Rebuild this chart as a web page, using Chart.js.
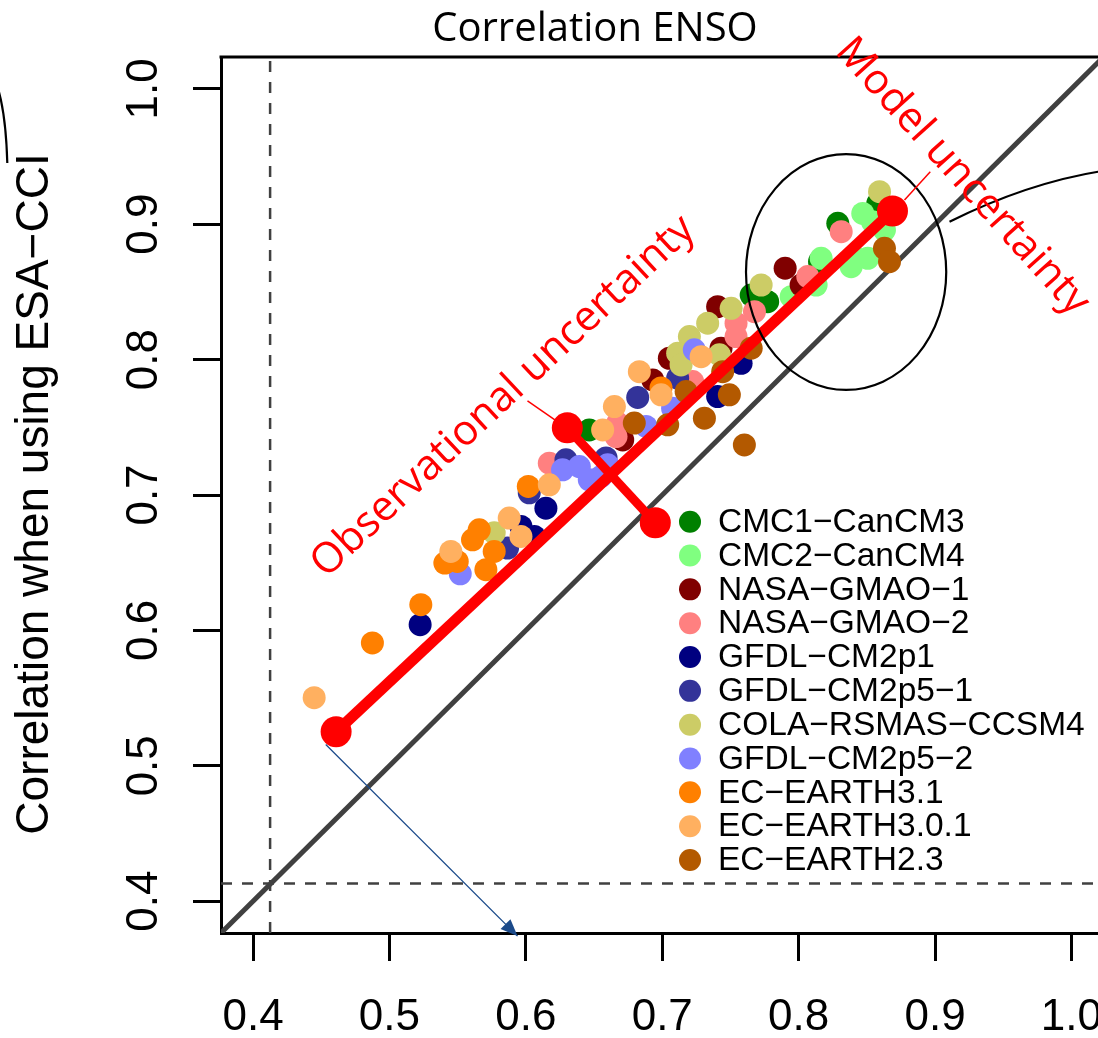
<!DOCTYPE html>
<html>
<head>
<meta charset="utf-8">
<script src="https://cdn.jsdelivr.net/npm/chart.js@4.4.1/dist/chart.umd.min.js"></script>
<style>
html,body{margin:0;padding:0;overflow:hidden;background:#ffffff;}
canvas{display:block;}
</style>
</head>
<body>
<canvas id="c" width="1119" height="1038"></canvas>
<script>
// ---------------- DATA ----------------
const modelNames = ['CMC1\u2212CanCM3','CMC2\u2212CanCM4','NASA\u2212GMAO\u22121','NASA\u2212GMAO\u22122','GFDL\u2212CM2p1','GFDL\u2212CM2p5\u22121','COLA\u2212RSMAS\u2212CCSM4','GFDL\u2212CM2p5\u22122','EC\u2212EARTH3.1','EC\u2212EARTH3.0.1','EC\u2212EARTH2.3'];
const modelColors = ['#008000','#80FF80','#800000','#FF8080','#000080','#333399','#CCCC66','#8080FF','#FF8000','#FFB060','#B35900'];

const cmc1X = [0.6465, 0.858, 0.8287, 0.8153, 0.7652, 0.7773];
const cmc1Y = [0.7481, 0.9154, 0.9007, 0.8723, 0.8477, 0.8428];
const cmc2X = [0.847, 0.8541, 0.8629, 0.8165, 0.8422, 0.8507, 0.8385, 0.8128, 0.7945];
const cmc2Y = [0.908, 0.9018, 0.8957, 0.8748, 0.8748, 0.8748, 0.8686, 0.8551, 0.8465];
const nasa1X = [0.7901, 0.8018, 0.7406, 0.7431, 0.7052, 0.693, 0.671];
const nasa1Y = [0.8675, 0.8551, 0.8391, 0.8084, 0.801, 0.785, 0.7407];
const nasa2X = [0.8312, 0.8067, 0.7676, 0.7541, 0.7541, 0.7223, 0.6673, 0.6661, 0.6172];
const nasa2Y = [0.8945, 0.8613, 0.8354, 0.8269, 0.817, 0.7838, 0.7531, 0.7432, 0.7235];
const gfdl1X = [0.5225, 0.5964, 0.6062, 0.6147, 0.7578, 0.7406];
const gfdl1Y = [0.6042, 0.6768, 0.6694, 0.6903, 0.7973, 0.7727];
const gfdl251X = [0.5866, 0.6025, 0.6294, 0.6588, 0.682, 0.7113];
const gfdl251Y = [0.6608, 0.7016, 0.726, 0.7274, 0.7721, 0.7863];
const colaX = [0.8593, 0.7725, 0.7505, 0.7333, 0.7199, 0.7113, 0.7138, 0.7419, 0.5768];
const colaY = [0.924, 0.8551, 0.8379, 0.8269, 0.817, 0.8047, 0.7961, 0.8035, 0.6721];
const gfdl252X = [0.5519, 0.6269, 0.6392, 0.6465, 0.6551, 0.66, 0.6881, 0.7076, 0.7235];
const gfdl252Y = [0.6418, 0.7186, 0.721, 0.7112, 0.7137, 0.7223, 0.7506, 0.7641, 0.8072];
const ec31X = [0.4875, 0.523, 0.5406, 0.5497, 0.5609, 0.5658, 0.5768, 0.5707, 0.6018, 0.6991];
const ec31Y = [0.5907, 0.619, 0.6497, 0.6509, 0.6669, 0.6743, 0.6583, 0.6448, 0.7063, 0.7791];
const ec301X = [0.4448, 0.545, 0.5878, 0.5964, 0.6172, 0.6563, 0.6649, 0.6832, 0.6991, 0.7285];
const ec301Y = [0.5503, 0.6583, 0.683, 0.6694, 0.7075, 0.7481, 0.7653, 0.7911, 0.774, 0.8022];
const ec23X = [0.6795, 0.704, 0.7175, 0.7309, 0.7492, 0.7443, 0.7652, 0.7602, 0.8629, 0.8666];
const ec23Y = [0.7531, 0.7518, 0.7764, 0.7567, 0.774, 0.7911, 0.8084, 0.737, 0.8822, 0.8723];

const seriesX = [cmc1X, cmc2X, nasa1X, nasa2X, gfdl1X, gfdl251X, colaX, gfdl252X, ec31X, ec301X, ec23X];
const seriesY = [cmc1Y, cmc2Y, nasa1Y, nasa2Y, gfdl1Y, gfdl251Y, colaY, gfdl252Y, ec31Y, ec301Y, ec23Y];

// red annotation segments (model spread and observational spread)
const modelLineX = [0.4609, 0.8688];
const modelLineY = [0.5252, 0.9097];
const obsLineX = [0.6304, 0.6949];
const obsLineY = [0.7496, 0.6795];

// significance thresholds (dashed)
const sigX = 0.4125;
const sigY = 0.413;

const tickValues = [0.4, 0.5, 0.6, 0.7, 0.8, 0.9, 1.0];
const tickLabels = ['0.4', '0.5', '0.6', '0.7', '0.8', '0.9', '1.0'];
const axisMin = 0.3765, axisMax = 1.0235;

const titleText = 'Correlation ENSO';
const yTitleText = 'Correlation when using ESA\u2212CCI';
const obsText = 'Observational uncertainty';
const modelText = 'Model uncertainty';

// ---------------- CHART ----------------
const helv = "'Liberation Sans', Arial, Helvetica, sans-serif";
const cal = "'Open Sans', 'Noto Sans', sans-serif";

const datasets = [];
datasets.push({type:'line', data:[{x:axisMin,y:axisMin},{x:axisMax,y:axisMax}], borderColor:'#404040', borderWidth:5, pointRadius:0, showLine:true, order:100, fill:false});
datasets.push({type:'line', data:[{x:sigX,y:axisMin},{x:sigX,y:axisMax}], borderColor:'#404040', borderWidth:2.5, borderDash:[11,10], pointRadius:0, showLine:true, order:101, fill:false});
datasets.push({type:'line', data:[{x:axisMin,y:sigY},{x:axisMax,y:sigY}], borderColor:'#404040', borderWidth:2.5, borderDash:[11,10], pointRadius:0, showLine:true, order:102, fill:false});
modelNames.forEach((n, i) => {
  datasets.push({type:'scatter', label:n, data: seriesX[i].map((x, j) => ({x, y: seriesY[i][j]})),
    backgroundColor: modelColors[i], borderColor: modelColors[i], borderWidth:0, pointRadius:11.5, pointHoverRadius:11.5, order: 50 - i});
});
datasets.push({type:'line', data: modelLineX.map((x,j)=>({x, y:modelLineY[j]})), borderColor:'#FF0000', backgroundColor:'#FF0000', borderWidth:11, pointRadius:15.5, pointBorderWidth:0, showLine:true, order:1, fill:false});
datasets.push({type:'line', data: obsLineX.map((x,j)=>({x, y:obsLineY[j]})), borderColor:'#FF0000', backgroundColor:'#FF0000', borderWidth:9, pointRadius:15.5, pointBorderWidth:0, showLine:true, order:0, fill:false});

const overlay = {
  id: 'overlay',
  afterDraw(chart) {
    const ctx = chart.ctx;
    const xs = chart.scales.x, ys = chart.scales.y, ca = chart.chartArea;
    const px = v => xs.getPixelForValue(v), py = v => ys.getPixelForValue(v);
    ctx.save();
    // top frame line
    ctx.strokeStyle = '#000'; ctx.lineWidth = 3;
    ctx.beginPath(); ctx.moveTo(ca.left - 1.5, ca.top); ctx.lineTo(chart.width, ca.top); ctx.stroke();

    // ellipse around model cluster
    const ecx = 0.8348, ecy = 0.8647, erx = 0.0734, ery = 0.0871;
    ctx.lineWidth = 2.2; ctx.strokeStyle = '#000';
    ctx.beginPath();
    ctx.ellipse(px(ecx), py(ecy), px(ecx + erx) - px(ecx), py(ecy) - py(ecy + ery), 0, 0, Math.PI * 2);
    ctx.stroke();
    // curve from ellipse to the right
    ctx.beginPath();
    ctx.moveTo(px(0.9106), py(0.9018));
    ctx.quadraticCurveTo(px(0.9671), py(0.9304), px(1.0235), py(0.9395));
    ctx.stroke();
    // curve at top left margin
    ctx.beginPath();
    ctx.moveTo(ca.left - 222, 92);
    ctx.quadraticCurveTo(ca.left - 215, 118, ca.left - 213.7, 163);
    ctx.stroke();

    // red leader lines
    ctx.strokeStyle = '#FF0000'; ctx.lineWidth = 1.5;
    ctx.beginPath(); ctx.moveTo(px(0.6012), py(0.7695)); ctx.lineTo(px(0.6221), py(0.755)); ctx.stroke();
    ctx.beginPath(); ctx.moveTo(px(0.8965), py(0.9388)); ctx.lineTo(px(0.8776), py(0.9179)); ctx.stroke();

    // red rotated texts
    ctx.fillStyle = '#FF0000';
    ctx.font = '42px ' + cal;
    ctx.textAlign = 'center'; ctx.textBaseline = 'middle';
    ctx.save(); ctx.translate(px(0.5834), py(0.7725)); ctx.rotate(-43.1 * Math.PI / 180); ctx.fillText(obsText, 0, 0); ctx.restore();
    ctx.save(); ctx.translate(px(0.92), py(0.935)); ctx.rotate(48 * Math.PI / 180); ctx.fillText(modelText, 0, 0); ctx.restore();

    // blue arrow
    const ax0 = px(0.4533), ay0 = py(0.5157), ax1 = px(0.5939), ay1 = py(0.3742);
    ctx.strokeStyle = '#1B4A8A'; ctx.fillStyle = '#1B4A8A'; ctx.lineWidth = 1.3;
    ctx.beginPath(); ctx.moveTo(ax0, ay0); ctx.lineTo(ax1, ay1); ctx.stroke();
    const ang = Math.atan2(ay1 - ay0, ax1 - ax0), hl = 17, hw = 7;
    ctx.beginPath();
    ctx.moveTo(ax1, ay1);
    ctx.lineTo(ax1 - hl * Math.cos(ang) + hw * Math.sin(ang), ay1 - hl * Math.sin(ang) - hw * Math.cos(ang));
    ctx.lineTo(ax1 - hl * Math.cos(ang) - hw * Math.sin(ang), ay1 - hl * Math.sin(ang) + hw * Math.cos(ang));
    ctx.closePath(); ctx.fill();

    // legend
    const lx = ca.left + 469, ly0 = 521.7, lstep = 33.83;
    ctx.font = '33.5px ' + helv; ctx.textAlign = 'left'; ctx.textBaseline = 'middle';
    modelNames.forEach((n, i) => {
      const yy = ly0 + i * lstep;
      ctx.fillStyle = modelColors[i];
      ctx.beginPath(); ctx.arc(lx, yy, 11, 0, Math.PI * 2); ctx.fill();
      ctx.fillStyle = '#000';
      ctx.fillText(n, lx + 28, yy + 1);
    });

    // y tick labels (rotated, as in R)
    ctx.font = '44px ' + helv; ctx.fillStyle = '#000';
    ctx.textAlign = 'center'; ctx.textBaseline = 'alphabetic';
    tickValues.forEach((v, i) => {
      ctx.save(); ctx.translate(ca.left - 64, py(v)); ctx.rotate(-Math.PI / 2); ctx.fillText(tickLabels[i], 0, 0); ctx.restore();
    });
    // y axis title
    ctx.font = '46px ' + helv;
    ctx.save(); ctx.translate(ca.left - 173, 494); ctx.rotate(-Math.PI / 2); ctx.fillText(yTitleText, 0, 0); ctx.restore();

    // title
    ctx.font = '40px ' + cal; ctx.textAlign = 'center'; ctx.textBaseline = 'alphabetic';
    ctx.fillText(titleText, 595, 41);
    ctx.restore();
  }
};

new Chart(document.getElementById('c'), {
  type: 'scatter',
  data: { datasets },
  options: {
    responsive: false,
    animation: false,
    events: [],
    layout: { padding: { top: 57, right: 5, left: 0, bottom: 0 } },
    plugins: { legend: { display: false }, tooltip: { enabled: false }, title: { display: false } },
    scales: {
      x: {
        type: 'linear', min: axisMin, max: axisMax,
        afterBuildTicks: s => { s.ticks = tickValues.map(v => ({ value: v })); },
        afterFit: s => { s.height = 105; s.paddingLeft = 0; s.paddingRight = 0; },
        ticks: { autoSkip: false, maxRotation: 0, minRotation: 0, includeBounds: false, padding: 30, color: '#000',
          font: { family: helv, size: 44 }, callback: (v, i) => tickLabels[i] },
        grid: { display: true, drawOnChartArea: false, drawTicks: true, tickLength: 28, tickWidth: 3, tickColor: '#000' },
        border: { display: true, width: 3, color: '#000' }
      },
      y: {
        type: 'linear', min: axisMin, max: axisMax,
        afterBuildTicks: s => { s.ticks = tickValues.map(v => ({ value: v })); },
        afterFit: s => { s.width = 221; s.paddingTop = 0; s.paddingBottom = 0; },
        ticks: { display: false, includeBounds: false },
        grid: { display: true, drawOnChartArea: false, drawTicks: true, tickLength: 28, tickWidth: 3, tickColor: '#000' },
        border: { display: true, width: 3, color: '#000' }
      }
    }
  },
  plugins: [overlay]
});
</script>
</body>
</html>
